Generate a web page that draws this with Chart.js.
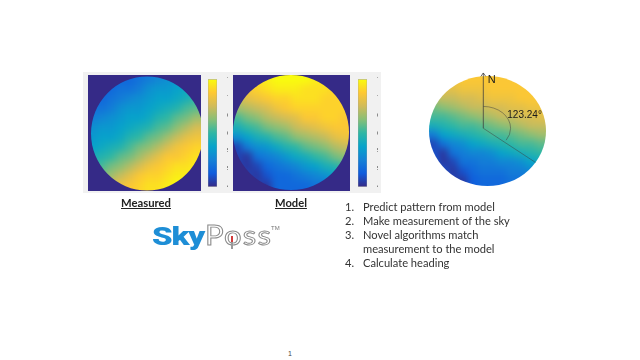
<!DOCTYPE html>
<html><head><meta charset="utf-8">
<script src="https://cdn.jsdelivr.net/npm/chart.js@4.4.1/dist/chart.umd.min.js"></script>
<style>
html,body{margin:0;padding:0;background:#fff}
body{width:640px;height:360px;position:relative;overflow:hidden;font-family:Lato,"Open Sans",sans-serif;color:#333}
.abs{position:absolute;white-space:nowrap}
canvas.abs{display:block}
.lbl{font-weight:700;font-size:11px;line-height:12px;text-decoration:underline;color:#222}
.step{position:absolute;left:0;font-size:11px;line-height:14px;color:#333;white-space:nowrap}
.num{position:absolute;left:0}
.txt{position:absolute;left:18px}
.logo{line-height:1;transform-origin:0 0}
</style></head>
<body>
<div class="abs" style="left:83px;top:72px;width:298px;height:121px;background:#f1f1f1"></div>
<canvas id="measured" class="abs" style="left:78px;top:65px" width="133" height="136"></canvas>
<canvas id="cbar1" class="abs" style="left:208px;top:74px" width="20" height="118"></canvas>
<canvas id="model" class="abs" style="left:223px;top:65px" width="137" height="136"></canvas>
<canvas id="cbar2" class="abs" style="left:358px;top:74px" width="20" height="118"></canvas>
<canvas id="sky" class="abs" style="left:420px;top:60px" width="140" height="135"></canvas>

<div id="lbl0" class="abs lbl" style="left:121px;top:197px"></div>
<div id="lbl1" class="abs lbl" style="left:275px;top:197px"></div>

<div id="logoA" class="abs logo" style="left:152px;top:223px;font-family:Roboto,'Liberation Sans',sans-serif;font-weight:900;font-size:26.5px;color:#1e8ed6;letter-spacing:-1px">Sky</div>
<div id="logoB" class="abs logo" style="left:205px;top:222px;font-family:Lato,sans-serif;font-weight:400;font-size:26px;color:rgba(255,255,255,0);-webkit-text-stroke:0.9px #8a8a8a;letter-spacing:1px">Poss</div>
<div class="abs" style="left:231px;top:236px;width:1.6px;height:13px;background:linear-gradient(#d23a3a 50%,#9a9a9a 50%)"></div>
<div class="abs" style="left:271px;top:225px;font-family:'Liberation Sans',sans-serif;font-size:6px;line-height:7px;color:#777">TM</div>

<div id="steps" class="abs" style="left:345px;top:200px"></div>
<div class="abs" style="left:288px;top:350px;font-size:7px;line-height:8px;color:#444;font-family:'Liberation Sans',sans-serif">1</div>

<script>
// ---------------- data ----------------
const panelLabels = ['Measured', 'Model'];
const stepTexts = [
  ['1.', 'Predict pattern from model'],
  ['2.', 'Make measurement of the sky'],
  ['3.', 'Novel algorithms match'],
  ['', 'measurement to the model'],
  ['4.', 'Calculate heading']
];
const colorRange = [45, 75];
const colorbarTicks = [45, 50, 55, 60, 65, 70, 75];
const heading = 123.24;
const northLabel = 'N';

// heatmap cell values, rows top -> bottom, columns left -> right
const measuredGrid = [
  [49,49,50,50,50,51,52,53,54,55,56,56],
  [50,50,50,51,51,52,54,55,55,56,57,58],
  [50,50,51,52,53,54,55,56,56,57,58,60],
  [51,51,52,54,55,55,56,57,58,59,61,62],
  [52,53,54,55,56,56,57,59,60,62,63,65],
  [54,55,55,56,57,58,59,61,62,64,66,68],
  [55,56,56,57,59,60,62,63,65,67,69,70],
  [56,57,58,59,61,63,64,66,68,70,71,72],
  [58,59,60,62,63,65,67,69,71,71,72,73],
  [59,61,63,64,66,68,70,71,72,73,73,74],
  [62,63,65,67,69,71,72,72,73,74,74,75],
  [64,66,68,70,71,72,73,73,74,75,75,75]
];
const modelGrid = [
  [72,73,73,74,75,75,75,75,74,73,73,73],
  [70,71,72,73,74,74,74,73,73,73,72,72],
  [67,69,70,71,72,72,73,73,73,72,72,72],
  [65,66,67,68,70,71,72,72,72,72,72,72],
  [61,63,64,66,67,68,69,71,71,72,72,71],
  [58,60,61,63,64,65,67,68,69,70,71,71],
  [54,56,58,59,61,62,64,65,66,67,69,70],
  [47,52,54,55,57,59,60,62,63,64,66,67],
  [47,46,51,52,53,55,57,58,60,61,63,64],
  [47,46,47,50,51,52,53,55,56,58,59,61],
  [47,47,46,48,50,50,51,52,53,54,56,57],
  [48,47,47,46,50,50,50,50,51,51,52,54]
];
const skyGrid = [
  [70,70,70,71,71,71,71,71,71,71,71,71],
  [68,69,69,70,70,70,71,71,71,71,71,71],
  [66,67,67,68,68,69,70,70,70,71,71,71],
  [63,64,65,66,67,67,68,68,69,69,70,70],
  [61,61,62,63,64,65,66,67,67,68,68,69],
  [58,59,60,61,61,62,63,64,65,66,67,67],
  [52,56,57,58,59,60,61,61,62,63,64,65],
  [47,51,53,54,56,57,58,59,60,61,61,62],
  [48,46,51,52,53,53,54,56,57,58,59,60],
  [49,46,47,51,51,52,52,53,53,54,56,57],
  [50,48,46,48,50,51,51,51,52,52,53,53],
  [50,49,47,46,49,50,50,50,51,51,52,52]
];

// ---------------- styles ----------------
const parulaStops = ['#352a87','#0f5cdd','#1481d6','#06a4ca','#2eb7a4','#87bf77','#d1bb59','#fec832','#f9fb0e'];
function hexRgb(h){return [parseInt(h.slice(1,3),16),parseInt(h.slice(3,5),16),parseInt(h.slice(5,7),16)];}
const stopRgb = parulaStops.map(hexRgb);
function parula(v){
  let t = (v - colorRange[0]) / (colorRange[1] - colorRange[0]);
  t = Math.max(0, Math.min(1, t)) * (stopRgb.length - 1);
  const i = Math.min(stopRgb.length - 2, Math.floor(t)), f = t - i;
  const a = stopRgb[i], b = stopRgb[i+1];
  return 'rgb(' + a.map((c,k)=>Math.round(c + (b[k]-c)*f)).join(',') + ')';
}

// smooth shading + circular mask
const circleShade = {
  id: 'circleShade',
  afterDatasetsDraw(chart, args, o){
    const c = chart.ctx, a = chart.chartArea, cv = chart.canvas, {x, y} = chart.scales;
    const L = Math.round(a.left), T = Math.round(a.top), W = Math.round(a.right - a.left), H = Math.round(a.bottom - a.top);
    const P = o.pad;
    c.save();
    c.setTransform(1,0,0,1,0,0);
    c.drawImage(cv, L, T, 1, H, L-P, T, P, H);
    c.drawImage(cv, L+W-1, T, 1, H, L+W, T, P, H);
    c.drawImage(cv, L-P, T, W+2*P, 1, L-P, T-P, W+2*P, P);
    c.drawImage(cv, L-P, T+H-1, W+2*P, 1, L-P, T+H, W+2*P, P);
    const snap = document.createElement('canvas');
    snap.width = cv.width; snap.height = cv.height;
    snap.getContext('2d').drawImage(cv, 0, 0);
    c.beginPath(); c.rect(L, T, W, H); c.clip();
    c.filter = 'blur(' + o.blur + 'px)';
    c.drawImage(snap, 0, 0);
    c.restore();
    const cx = x.getPixelForValue(o.cx), cy = y.getPixelForValue(o.cy);
    const rx = Math.abs(x.getPixelForValue(o.cx + o.rx) - cx), ry = Math.abs(y.getPixelForValue(o.cy + o.ry) - cy);
    c.save();
    if (o.bg){
      c.beginPath(); c.rect(L, T, W, H); c.ellipse(cx, cy, rx, ry, 0, 0, Math.PI*2);
      c.fillStyle = o.bg; c.fill('evenodd');
      c.clearRect(0, 0, cv.width, T); c.clearRect(0, T+H, cv.width, cv.height);
      c.clearRect(0, T, L, H); c.clearRect(L+W, T, cv.width, H);
    } else {
      c.globalCompositeOperation = 'destination-in';
      c.beginPath(); c.ellipse(cx, cy, rx, ry, 0, 0, Math.PI*2); c.fill();
    }
    c.restore();
  }
};

const compass = {
  id: 'compass',
  afterDraw(chart, args, o){
    const {x, y} = chart.scales, c = chart.ctx;
    const px = x.getPixelForValue(o.x0), py = y.getPixelForValue(o.y0);
    const tipY = y.getPixelForValue(o.tipY);
    const rx = Math.abs(x.getPixelForValue(o.x0 + o.arcR) - px);
    const ry = Math.abs(y.getPixelForValue(o.y0 + o.arcR * o.arcAspect) - py);
    const ccx = x.getPixelForValue(o.cx), ccy = y.getPixelForValue(o.cy);
    const Rx = Math.abs(x.getPixelForValue(o.cx + o.r) - ccx), Ry = Math.abs(y.getPixelForValue(o.cy + o.r) - ccy);
    const th = heading * Math.PI / 180, dx = Math.sin(th), dy = -Math.cos(th);
    const ax = dx/Rx, ay = dy/Ry, bx = (px-ccx)/Rx, by = (py-ccy)/Ry;
    const A = ax*ax+ay*ay, B = 2*(ax*bx+ay*by), C = bx*bx+by*by-1;
    const t = (-B + Math.sqrt(B*B-4*A*C)) / (2*A);
    c.save();
    c.strokeStyle = 'rgba(60,60,60,0.85)'; c.lineWidth = 0.9;
    c.beginPath(); c.moveTo(px, py); c.lineTo(px, tipY); c.stroke();
    c.beginPath(); c.moveTo(px-2.5, tipY+3.5); c.lineTo(px, tipY); c.lineTo(px+2.5, tipY+3.5); c.stroke();
    c.strokeStyle = 'rgba(60,60,60,0.6)'; c.lineWidth = 0.8;
    c.beginPath(); c.moveTo(px, py); c.lineTo(px + dx*t, py + dy*t); c.stroke();
    c.beginPath(); c.ellipse(px, py, rx, ry, 0, -Math.PI/2, -Math.PI/2 + th); c.stroke();
    c.fillStyle = '#1a1a1a';
    c.font = '11px "Liberation Sans", Arial, sans-serif'; c.textBaseline = 'alphabetic';
    c.fillText(northLabel, px + 4.5, tipY + 10.5);
    c.font = '10px "Liberation Sans", Arial, sans-serif';
    c.fillText(heading.toFixed(2) + '°', px + 24, py - 10);
    c.restore();
  }
};

function heatmap(id, grid, shadeOpts, pad, extra){
  const data = [];
  grid.forEach((row, r) => row.forEach((v, col) => data.push({x: col, y: r, v})));
  const radius = ctx => {
    const s = ctx.chart.scales; if (!s || !s.x || !s.y) return 5;
    const w = Math.abs(s.x.getPixelForValue(1) - s.x.getPixelForValue(0));
    const h = Math.abs(s.y.getPixelForValue(1) - s.y.getPixelForValue(0));
    return (Math.max(w, h) / 2 + 0.6) / Math.SQRT1_2;
  };
  const plugins = {legend:{display:false}, tooltip:{enabled:false}, circleShade: shadeOpts};
  if (extra) plugins.compass = extra;
  return new Chart(document.getElementById(id), {
    type: 'scatter',
    data: {datasets: [{data, pointStyle: 'rect', borderWidth: 0,
      backgroundColor: ctx => parula(ctx.raw ? ctx.raw.v : 60),
      pointRadius: radius, pointHoverRadius: radius}]},
    options: {responsive:false, animation:false, events:[], layout:{padding: pad},
      plugins,
      scales: {
        x: {type:'linear', min:-0.5, max:grid[0].length-0.5, display:false},
        y: {type:'linear', min:-0.5, max:grid.length-0.5, reverse:true, display:false}
      }},
    plugins: extra ? [circleShade, compass] : [circleShade]
  });
}

function colorbar(id){
  return new Chart(document.getElementById(id), {
    type: 'bar',
    data: {labels: [''], datasets: [{data: [colorRange],
      backgroundColor: ctx => {
        const a = ctx.chart.chartArea; if (!a) return parula(60);
        const g = ctx.chart.ctx.createLinearGradient(0, a.bottom, 0, a.top);
        parulaStops.forEach((col, i) => g.addColorStop(i/(parulaStops.length-1), col));
        return g;
      },
      borderColor: '#9a9a9a', borderWidth: 0.6, borderSkipped: false,
      barPercentage: 1, categoryPercentage: 1}]},
    options: {responsive:false, animation:false, events:[], layout:{padding:{top:2, bottom:3, left:0, right:0}},
      plugins: {legend:{display:false}, tooltip:{enabled:false}},
      scales: {
        x: {display:false},
        y: {position:'right', min:colorRange[0], max:colorRange[1],
          afterBuildTicks: ax => { ax.ticks = colorbarTicks.map(v => ({value: v})); },
          afterFit: ax => { ax.width = 11; },
          ticks: {font:{size:5.5, family:'"Liberation Sans", Arial'}, color:'#333', padding:2, autoSkip:false},
          grid: {display:false}, border: {display:false}}
      }}
  });
}

heatmap('measured', measuredGrid, {bg:'#352a87', cx:5.77, cy:5.55, rx:5.95, ry:5.9, pad:10, blur:3.5}, 10);
heatmap('model', modelGrid, {bg:'#352a87', cx:5.45, cy:5.45, rx:5.95, ry:5.95, pad:10, blur:3.5}, 10);
heatmap('sky', skyGrid, {cx:5.5, cy:5.5, rx:6, ry:6, pad:9, blur:3.5}, {left:9, right:14, top:16, bottom:9},
  {x0:5.07, y0:5.2, tipY:-0.83, arcR:2.8, arcAspect:0.85, cx:5.5, cy:5.5, r:6});
colorbar('cbar1');
colorbar('cbar2');

// ---------------- text ----------------
document.getElementById('lbl0').textContent = panelLabels[0];
document.getElementById('lbl1').textContent = panelLabels[1];
const stepsEl = document.getElementById('steps');
stepTexts.forEach((s, i) => {
  const d = document.createElement('div');
  d.className = 'step';
  d.style.top = (i * 14) + 'px';
  d.innerHTML = '<span class="num"></span><span class="txt"></span>';
  d.children[0].textContent = s[0];
  d.children[1].textContent = s[1];
  stepsEl.appendChild(d);
});
function fitFont(el, target){
  const fs = parseFloat(getComputedStyle(el).fontSize);
  const w = el.getBoundingClientRect().width;
  return w > 0 ? fs * target / w : fs;
}
const firstTxt = stepsEl.querySelector('.txt');
const stepSize = fitFont(firstTxt, 132);
stepsEl.querySelectorAll('.step').forEach(d => d.style.fontSize = stepSize + 'px');
['lbl0','lbl1'].forEach((id, i) => {
  const el = document.getElementById(id);
  el.style.fontSize = fitFont(el, [50, 32][i]) + 'px';
});
function squeeze(id, target){
  const el = document.getElementById(id);
  const w = el.getBoundingClientRect().width;
  if (w > 0) el.style.transform = 'scaleX(' + (target / w) + ')';
}
squeeze('logoA', 52);
squeeze('logoB', 67);
</script>
</body></html>
